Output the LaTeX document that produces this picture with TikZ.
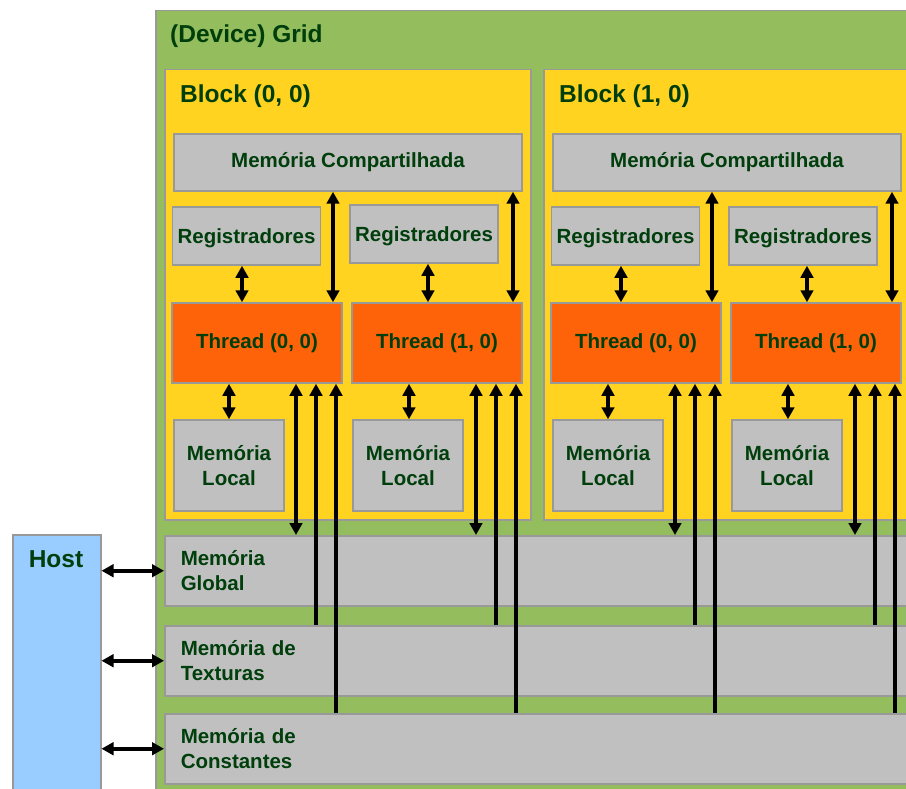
\documentclass[tikz,border=0pt]{standalone}
\usepackage{fontspec}
\setmainfont{Liberation Sans}
\usetikzlibrary{arrows.meta, positioning}

\definecolor{gridgreen}{RGB}{148,189,94}
\definecolor{blockyellow}{RGB}{255,211,32}
\definecolor{memgray}{RGB}{192,192,192}
\definecolor{throrange}{RGB}{255,99,10}
\definecolor{hostblue}{RGB}{153,204,255}
\definecolor{edgegray}{RGB}{153,153,153}
\definecolor{txtgreen}{RGB}{0,62,12}

\begin{document}
\begin{tikzpicture}[
  x=1pt, y=-1pt,
  every node/.style={font=\bfseries\fontsize{20.5}{25}\selectfont, text=txtgreen},
  title/.style={font=\bfseries\fontsize{24.5}{29}\selectfont, inner sep=0pt},
  box/.style={draw=edgegray, line width=1.5pt, inner sep=0pt},
  mem/.style={box, fill=memgray},
  shmem/.style={mem, minimum width=348pt, minimum height=57pt},
  regs/.style={mem, minimum width=148pt, minimum height=58pt, text depth=0pt},
  locmem/.style={mem, minimum width=110pt, minimum height=91pt, align=center},
  thread/.style={box, fill=throrange, minimum width=170pt, minimum height=80pt},
  bus/.style={mem, anchor=north west, minimum height=70pt, inner xsep=16pt,
              text width=728pt, align=left},
  blockbox/.style={box, fill=blockyellow, anchor=north west,
                   minimum width=366pt, minimum height=450pt},
  link/.style={line width=4pt, -{Triangle[length=12pt,width=12.5pt]}},
  both/.style={line width=4pt,
               {Triangle[length=12pt,width=12.5pt]}-{Triangle[length=12pt,width=12.5pt]}},
]
  \useasboundingbox (0,0) rectangle (906,789);
  \clip (0,0) rectangle (906,789);

  % Grid
  \node[box, fill=gridgreen, anchor=north west, minimum width=775pt,
        minimum height=790pt] (grid) at (155,10) {};
  \node[title, anchor=west] at (170,36) {(Device) Grid};

  % Memories shared by all blocks
  \node[bus] (glob) at (164,535) {Memória\\Global};
  \node[bus] (tex) at (164,625) {Memória de\\Texturas};
  \node[bus] (con) at (164,713) {Memória de\\Constantes};

  % Host
  \node[box, fill=hostblue, anchor=north west, minimum width=88pt,
        minimum height=270pt] (host) at (12,534) {};
  \node[title] at (56,559) {Host};
  \foreach \m in {glob, tex, con}
    \draw[both] (host.east |- \m.west) -- (\m.west);

  % Blocks
  \foreach \b/\dx/\ry in {0/0/234, 1/379/236} {
    \begin{scope}[xshift=\dx pt]
      \node[blockbox] (blk\b) at (164,69) {};
      \node[title, anchor=west] at (180,96) {Block (\b, 0)};
      \node[shmem] (sh\b) at (348,162.5) {Memória Compartilhada};
      \node[regs] (ra\b) at (246.5,236) {Registradores};
      \node[regs] (rb\b) at (424,\ry) {Registradores};
      \node[thread] (ta\b) at (257,343) {Thread (0, 0)};
      \node[thread] (tb\b) at (437,343) {Thread (1, 0)};
      \node[locmem] (la\b) at (229,465.5) {Memória\\Local};
      \node[locmem] (lb\b) at (408,465.5) {Memória\\Local};

      % arrows of each thread
      \foreach \t/\ox/\rx in {a/0/242, b/180/428} {
        \pgfmathsetmacro\xs{333+\ox}
        \pgfmathsetmacro\xl{229+\ox}
        \pgfmathsetmacro\xg{296+\ox}
        \pgfmathsetmacro\xt{316+\ox}
        \pgfmathsetmacro\xc{336+\ox}
        \draw[both] (r\t\b.south -| \rx,0) -- (t\t\b.north -| \rx,0);
        \draw[both] (sh\b.south -| \xs,0) -- (t\t\b.north -| \xs,0);
        \draw[both] (t\t\b.south -| \xl,0) -- (l\t\b.north -| \xl,0);
        \draw[both] (t\t\b.south -| \xg,0) -- (glob.north -| \xg,0);
        \draw[link] (tex.north -| \xt,0) -- (t\t\b.south -| \xt,0);
        \draw[link] (con.north -| \xc,0) -- (t\t\b.south -| \xc,0);
      }
    \end{scope}
  }
\end{tikzpicture}
\end{document}
